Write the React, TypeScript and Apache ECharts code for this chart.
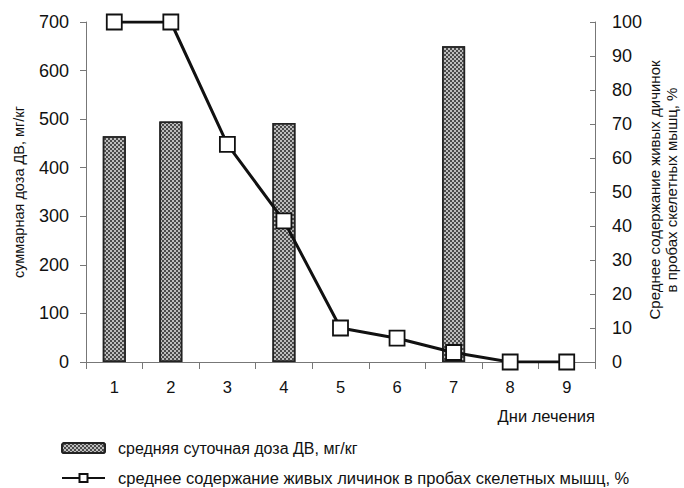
import React, { useEffect, useRef } from "react";
import * as echarts from "echarts";

const days = ["1", "2", "3", "4", "5", "6", "7", "8", "9"];
const doseValues: (number | string)[] = [465, 495, "-", 492, "-", "-", 650, "-", "-"];
const larvaeValues = [100, 100, 64, 41.5, 10, 7, 2.8, 0, 0];
const doseName = "средняя суточная доза ДВ, мг/кг";
const larvaeName = "среднее содержание живых личинок в пробах скелетных мышц, %";

export default function App() {
  const ref = useRef<HTMLDivElement>(null);
  useEffect(() => {
    const chart = echarts.init(ref.current!, null, { renderer: "svg" });
    const font = "Liberation Sans, Arial, sans-serif";
    const legendBase = {
      orient: "horizontal",
      left: 61,
      itemWidth: 43,
      itemHeight: 10,
      padding: 0,
    };
    chart.setOption({
      animation: false,
      textStyle: { fontFamily: font },
      grid: { left: 86, right: 89, top: 22, bottom: 126 },
      legend: [
        {
          ...legendBase,
          top: 439,
          data: [{ name: doseName }],
          textStyle: { fontSize: 16, lineHeight: 18, color: "#111", fontFamily: font, padding: [0, 0, 0, 8] },
        },
        {
          ...legendBase,
          top: 469,
          data: [{ name: larvaeName }],
          textStyle: { fontSize: 16.5, lineHeight: 18, color: "#111", fontFamily: font, padding: [0, 0, 0, 8] },
        },
      ],
      xAxis: {
        type: "category",
        data: days,
        boundaryGap: true,
        axisLine: { lineStyle: { color: "#777", width: 1 } },
        axisTick: { show: true, alignWithLabel: false, length: 7, lineStyle: { color: "#777" } },
        axisLabel: { fontSize: 16.5, color: "#111", margin: 16 },
      },
      yAxis: [
        {
          type: "value",
          min: 0,
          max: 700,
          interval: 100,
          splitLine: { show: false },
          axisLine: { show: true, lineStyle: { color: "#777" } },
          axisTick: { show: true, length: 6, lineStyle: { color: "#777" } },
          axisLabel: { fontSize: 18, color: "#111", margin: 17 },
          name: "суммарная доза ДВ, мг/кг",
          nameLocation: "middle",
          nameGap: 60,
          nameRotate: 90,
          nameTextStyle: { fontSize: 14.5, color: "#111" },
        },
        {
          type: "value",
          min: 0,
          max: 100,
          interval: 10,
          position: "right",
          splitLine: { show: false },
          axisLine: { show: true, lineStyle: { color: "#777" } },
          axisTick: { show: true, inside: true, length: 5, lineStyle: { color: "#777" } },
          axisLabel: { fontSize: 18, color: "#111", margin: 17 },
        },
      ],
      graphic: [
        {
          type: "text",
          right: 89,
          top: 407,
          style: { text: "Дни лечения", fontSize: 16.5, fill: "#111", fontFamily: font },
        },
        {
          type: "text",
          x: 663,
          y: 190,
          rotation: Math.PI / 2,
          style: {
            text: "Среднее содержание живых дичинок\nв пробах скелетных мышц, %",
            fontSize: 15,
            lineHeight: 17,
            fill: "#111",
            align: "center",
            verticalAlign: "middle",
            fontFamily: font,
          },
        },
      ],
      series: [
        {
          name: doseName,
          type: "bar",
          data: doseValues,
          barWidth: 23,
          yAxisIndex: 0,
          itemStyle: {
            color: "#bdbdbd",
            borderColor: "#222",
            borderWidth: 1.5,
            decal: {
              symbol: "rect",
              symbolSize: 1,
              dashArrayX: [[2, 2], [0, 2, 2, 0]],
              dashArrayY: [2, 0],
              color: "#4a4a4a",
              rotation: 0,
            },
          },
        },
        {
          name: larvaeName,
          type: "line",
          data: larvaeValues,
          yAxisIndex: 1,
          symbol: "rect",
          symbolSize: 15,
          lineStyle: { color: "#111", width: 3 },
          itemStyle: { color: "#fff", borderColor: "#111", borderWidth: 1.8 },
          z: 5,
        },
      ],
    });
    return () => chart.dispose();
  }, []);
  return (
    <div
      ref={ref}
      style={{ position: "absolute", left: 0, top: 0, width: 684, height: 488 }}
    />
  );
}
